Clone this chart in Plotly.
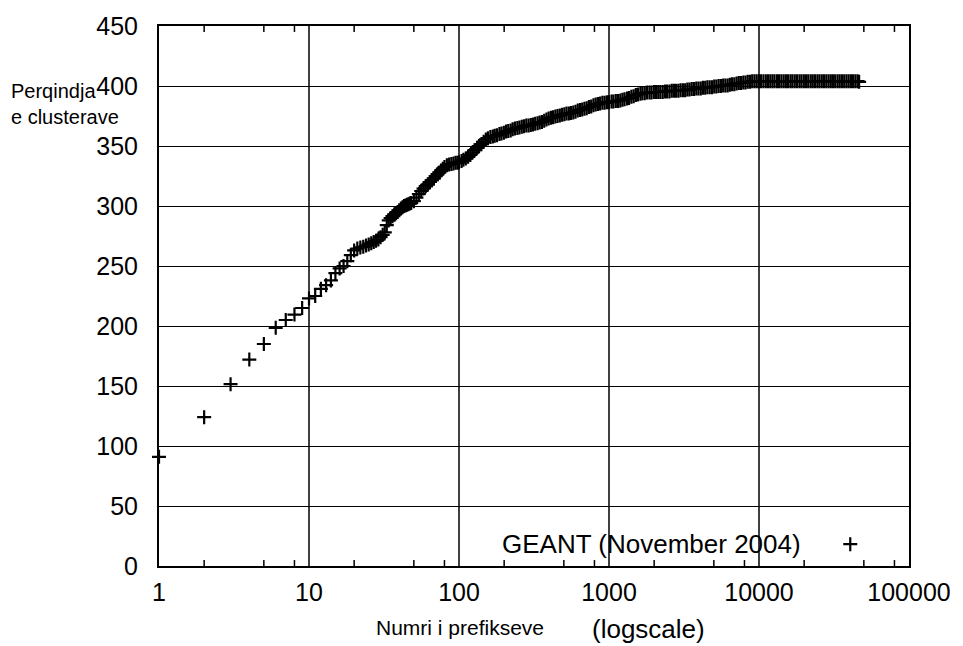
import plotly.graph_objects as go

# Cluster percentage vs. number of prefixes (GEANT, November 2004)
prefixes = [
    1, 2, 3, 4, 5, 6, 7, 8, 9, 10, 11, 12, 13, 14, 15, 16, 17, 18, 19,
    20, 21, 22, 23, 24, 25, 26, 27, 28, 29, 30, 31, 32, 33, 34, 35,
    36, 37, 38, 39, 40, 41, 42, 43, 44, 45, 46, 47, 48, 50, 52, 54, 56, 58,
    60, 62, 64, 66, 68, 70, 72, 74, 76, 78, 80, 83, 86, 89, 92, 95, 98,
    100, 104, 107, 111, 115, 119, 123, 127, 132, 136, 141, 146, 151, 156,
    162, 168, 173, 179, 186, 192, 199, 206, 213, 221, 228, 236, 245, 253,
    262, 271, 281, 291, 301, 311, 322, 334, 345, 357, 370, 383, 396, 410,
    424, 439, 454, 470, 487, 504, 521, 540, 558, 578, 598, 619, 641, 663,
    686, 710, 735, 761, 788, 815, 844, 873, 904, 935, 968,
    1000, 1040, 1070, 1110, 1150, 1190, 1230, 1270, 1320, 1360, 1410, 1460,
    1510, 1560, 1620, 1670, 1730, 1790, 1860, 1920, 1990, 2060, 2130, 2200,
    2280, 2360, 2440, 2530, 2620, 2710, 2800, 2900, 3000, 3110, 3220, 3330,
    3440, 3560, 3690, 3820, 3950, 4090, 4230, 4380, 4530, 4690, 4860, 5030,
    5200, 5380, 5570, 5770, 5970, 6180, 6390, 6620, 6850, 7090, 7330, 7590,
    7860, 8130, 8410, 8710, 9010, 9330, 9650, 9990,
    10300, 10700, 11100, 11500, 11900, 12300, 12700, 13200, 13600, 14100,
    14600, 15100, 15600, 16200, 16700, 17300, 17900, 18600, 19200, 19900,
    20600, 21300, 22100, 22800, 23600, 24500, 25300, 26200, 27100, 28100,
    29100, 30100, 31100, 32200, 33400, 34500, 35700, 37000, 38300, 39600,
    41000, 42400, 43900, 45400, 46500,
]
cluster_pct = [
    91, 124, 151.5, 172, 185, 198.5, 205, 209.5, 215, 223, 225, 231, 234, 238,
    244, 248, 250, 254, 259,
    263, 264.5, 265.5, 266, 267, 268, 269, 270, 271, 272, 274, 276, 278, 284,
    288, 290,
    291.5, 293, 294, 295, 296.5, 298, 299, 300, 300.5, 301, 301.5, 302, 302.5,
    304, 307, 310, 312.5, 314.5,
    316.5, 318, 320, 321.5, 323, 325, 326.5, 328, 329.5, 331, 332.5, 334,
    334.5, 335, 335.5, 336, 336,
    336.5, 337.5, 338.5, 339.5, 341, 342.5, 344.5, 346.5, 348.5, 350, 351.5,
    353.5, 355.5, 356.5,
    357.5, 358, 358.5, 359, 360, 360.5, 361, 362, 362.5, 363, 364, 364.5, 365,
    365.5,
    366, 366.5, 367, 367, 367.5, 368, 368.5, 369, 369.5, 370, 371, 372, 373,
    373.5,
    374, 374.5, 375, 375.5, 376, 376.5, 377, 377, 377.5, 378, 378.5, 379.5,
    380, 380.5,
    381, 381.5, 382.5, 383, 384, 384.5, 385, 385.5, 386, 386, 386.5,
    386.5, 387, 387, 387.5, 387.5, 388, 388.5, 389, 389.5, 390, 391, 391.5,
    392.5, 393, 393.5, 394, 394, 394.5, 394.5, 394.5, 395, 395, 395, 395,
    395, 395.5, 395.5, 395.5, 396, 396, 396, 396, 396.5, 396.5, 396.5, 397,
    397, 397.5, 397.5, 398, 398, 398, 398.5, 398.5, 399, 399, 399, 399.5,
    399.5, 400, 400, 400.5, 400.5, 400.5, 401, 401.5, 401.5, 402, 402.5, 402.5,
    403, 403, 403.5, 403.5, 404, 404, 404, 404,
    404, 404, 404, 404, 404, 404, 404, 404, 404, 404,
    404, 404, 404, 404, 404, 404, 404, 404, 404, 404,
    404, 404, 404, 404, 404, 404, 404, 404, 404, 404,
    404, 404, 404, 404, 404, 404, 404, 404, 404, 404,
    404, 404, 404, 404, 403.5,
]
assert len(prefixes) == len(cluster_pct)

x_decades = [1, 10, 100, 1000, 10000, 100000]
x_decade_text = ["1", "10", "100", "1000", "10000", "100000"]
x_minor_vals = [m * d for d in (1, 10, 100, 1000, 10000) for m in (2, 5, 8)]
y_tick_vals = list(range(0, 451, 50))

series_name = "GEANT (November 2004)"
x_title = "Numri i prefikseve"
x_note = "(logscale)"
y_title = "Perqindja<br>e clusterave"

FONT = "Liberation Sans, Arial, sans-serif"
PLOT_H = 646 - 22 - 80          # plot-area height in px
TICK_FRAC = 6 / PLOT_H          # 6 px tick marks, in paper units

fig = go.Figure()
fig.add_trace(go.Scatter(
    x=prefixes, y=cluster_pct, mode="markers", name=" ",
    marker=dict(symbol="cross-thin", size=10, color="black",
                line=dict(color="black", width=2.2)),
    cliponaxis=False, showlegend=True,
))

# vertical grid lines at the decades
for v in x_decades[1:-1]:
    fig.add_shape(type="line", xref="x", yref="paper", x0=v, x1=v, y0=0, y1=1,
                  line=dict(color="black", width=1.5), layer="below")

# small inward tick marks between decades, bottom and top edges
for v in x_minor_vals:
    for y0, y1 in ((0, TICK_FRAC), (1 - TICK_FRAC, 1)):
        fig.add_shape(type="line", xref="x", yref="paper", x0=v, x1=v,
                      y0=y0, y1=y1, line=dict(color="black", width=1.5))

tick_font = dict(family=FONT, size=25, color="black")

fig.update_layout(
    width=963, height=646,
    margin=dict(l=159, r=47, t=22, b=80),
    paper_bgcolor="white", plot_bgcolor="white",
    font=dict(family=FONT, color="black"),
    xaxis=dict(type="log", range=[0, 5], tickvals=x_decades, ticktext=x_decade_text,
               ticks="", ticklabelstandoff=3, showgrid=False, zeroline=False,
               showline=True, linecolor="black", linewidth=2, mirror=True,
               tickfont=tick_font),
    yaxis=dict(range=[0, 450], tickvals=y_tick_vals, ticks="",
               ticklabelstandoff=14, showgrid=True, gridcolor="black", gridwidth=1,
               zeroline=False, showline=True, linecolor="black", linewidth=2,
               mirror=True, tickfont=tick_font),
    legend=dict(x=0.895, y=0.04, xanchor="left", yanchor="middle",
                bgcolor="rgba(0,0,0,0)", borderwidth=0,
                font=dict(family=FONT, size=25)),
    showlegend=True,
    annotations=[
        dict(text=series_name, xref="paper", yref="paper", x=0.858, y=0.04,
             xanchor="right", yanchor="middle", showarrow=False,
             font=dict(family=FONT, size=26, color="black")),
        dict(text=x_title, xref="paper", yref="paper", x=0.401, y=-0.114,
             xanchor="center", yanchor="middle", showarrow=False,
             font=dict(family=FONT, size=21, color="black")),
        dict(text=x_note, xref="paper", yref="paper", x=0.652, y=-0.116,
             xanchor="center", yanchor="middle", showarrow=False,
             font=dict(family=FONT, size=26, color="black")),
        dict(text=y_title, xref="paper", yref="paper", x=-0.200, y=0.855,
             xanchor="left", yanchor="middle", align="left", showarrow=False,
             font=dict(family=FONT, size=20, color="black")),
    ],
)

fig.write_html("out.html")
